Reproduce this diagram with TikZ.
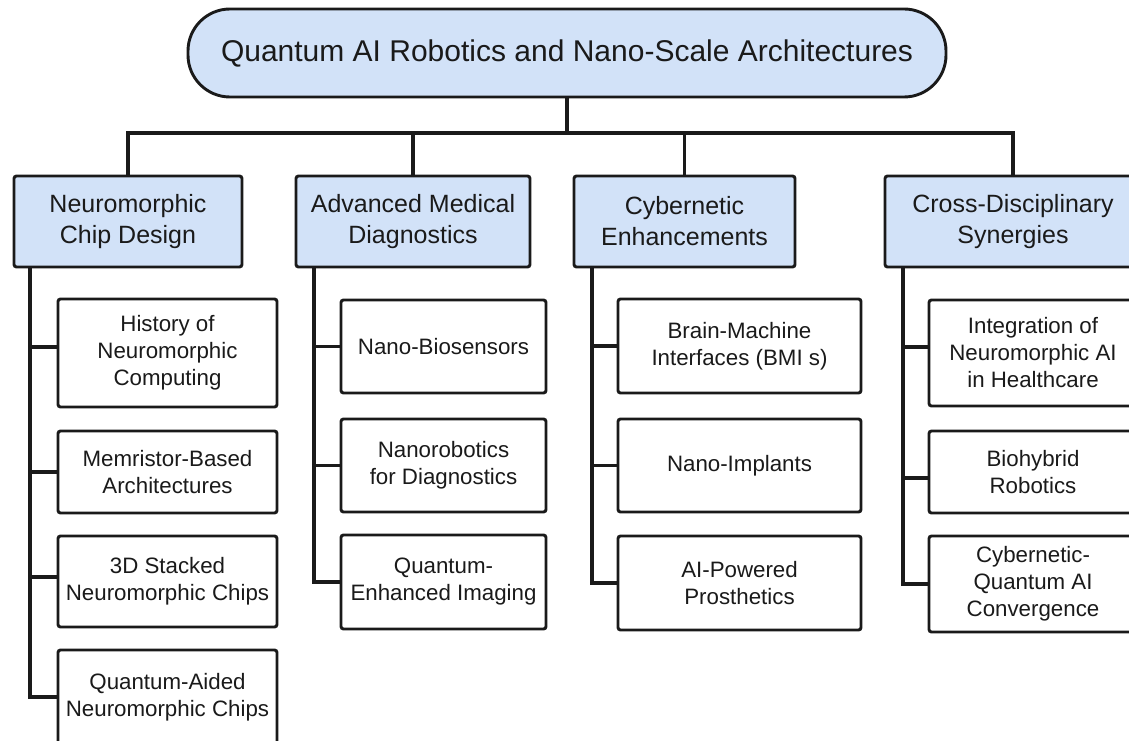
\documentclass[tikz,border=0pt]{standalone}
\usepackage{fontspec}
\setmainfont{Liberation Sans}
\definecolor{ink}{HTML}{1A1A1A}
\definecolor{headfill}{HTML}{D2E2F8}
\tikzset{
  titlebox/.style={draw=ink, fill=headfill, line width=2.9pt, rounded corners=42pt,
    minimum width=758pt, minimum height=88pt, inner sep=0pt, text=ink,
    font=\fontsize{30}{35}\selectfont},
  headbox/.style={draw=ink, fill=headfill, line width=2.9pt, rounded corners=2.5pt,
    minimum height=91pt, inner sep=0pt, align=center, text=ink,
    font=\fontsize{25}{31}\selectfont},
  leafbox/.style={draw=ink, fill=white, line width=2.9pt, rounded corners=2.5pt,
    inner sep=0pt, align=center, text=ink,
    font=\fontsize{22.3}{27}\selectfont},
  link/.style={draw=ink, line width=3.2pt}
}
\begin{document}
\begin{tikzpicture}[x=1pt,y=-1pt]
\useasboundingbox (0,0) rectangle (1129,741);
\fill[white] (0,0) rectangle (1129,741);
\clip (0,0) rectangle (1129,741);

% root
\node[titlebox] (root) at (567,53) {Quantum AI Robotics and Nano-Scale Architectures};

% category headers
\node[headbox, minimum width=228pt] (h1) at (128,221.5) {Neuromorphic\\Chip Design};
\node[headbox, minimum width=234pt] (h2) at (413,221.5) {Advanced Medical\\Diagnostics};
\node[headbox, minimum width=221pt] (h3) at (684.5,221.5) {Cybernetic\\Enhancements};
\node[headbox, minimum width=256pt] (h4) at (1013,221.5) {Cross-Disciplinary\\Synergies};

% leaves, column 1
\node[leafbox, minimum width=219pt, minimum height=108pt] (c11) at (167.5,353) {History of\\Neuromorphic\\Computing};
\node[leafbox, minimum width=219pt, minimum height=82pt]  (c12) at (167.5,472) {Memristor-Based\\Architectures};
\node[leafbox, minimum width=219pt, minimum height=91pt]  (c13) at (167.5,581.5) {3D Stacked\\Neuromorphic Chips};
\node[leafbox, minimum width=219pt, minimum height=94pt]  (c14) at (167.5,697) {Quantum-Aided\\Neuromorphic Chips};

% leaves, column 2
\node[leafbox, minimum width=205pt, minimum height=93pt] (c21) at (443.5,346.5) {Nano-Biosensors};
\node[leafbox, minimum width=205pt, minimum height=93pt] (c22) at (443.5,465.5) {Nanorobotics\\for Diagnostics};
\node[leafbox, minimum width=205pt, minimum height=94pt] (c23) at (443.5,582) {Quantum-\\Enhanced Imaging};

% leaves, column 3
\node[leafbox, minimum width=243pt, minimum height=94pt] (c31) at (739.5,346) {Brain-Machine\\Interfaces (BMI s)};
\node[leafbox, minimum width=243pt, minimum height=93pt] (c32) at (739.5,465.5) {Nano-Implants};
\node[leafbox, minimum width=243pt, minimum height=94pt] (c33) at (739.5,583) {AI-Powered\\Prosthetics};

% leaves, column 4
\node[leafbox, minimum width=208pt, minimum height=106pt] (c41) at (1033,353) {Integration of\\Neuromorphic AI\\in Healthcare};
\node[leafbox, minimum width=208pt, minimum height=82pt]  (c42) at (1033,472) {Biohybrid\\Robotics};
\node[leafbox, minimum width=208pt, minimum height=96pt]  (c43) at (1033,584) {Cybernetic-\\Quantum AI\\Convergence};

% bus from root to the headers
\coordinate (bus) at (568,133);
\draw[link] (root.south) -- (root.south |- bus);
\draw[link] (h1.north) |- (bus) -| (h4.north);
\draw[link] (h2.north) -- (h2.north |- bus);
\draw[link] (h3.north) -- (h3.north |- bus);

% trunk lines of each column; the branch heights follow each box's side
\coordinate (k1) at (30,0);
\coordinate (k2) at (314,0);
\coordinate (k3) at (592,0);
\coordinate (k4) at (903,0);
\draw[link] (h1.south -| k1) |- ([yshift=6pt]c11.west);
\draw[link] (h1.south -| k1) |- (c12.west);
\draw[link] (h1.south -| k1) |- ([yshift=4.5pt]c13.west);
\draw[link] (h1.south -| k1) |- (c14.west);
\foreach \c in {c21,c22,c23} \draw[link] (h2.south -| k2) |- (\c.west);
\foreach \c in {c31,c32,c33} \draw[link] (h3.south -| k3) |- (\c.west);
\draw[link] (h4.south -| k4) |- ([yshift=6pt]c41.west);
\draw[link] (h4.south -| k4) |- ([yshift=-6pt]c42.west);
\draw[link] (h4.south -| k4) |- (c43.west);
\end{tikzpicture}
\end{document}
